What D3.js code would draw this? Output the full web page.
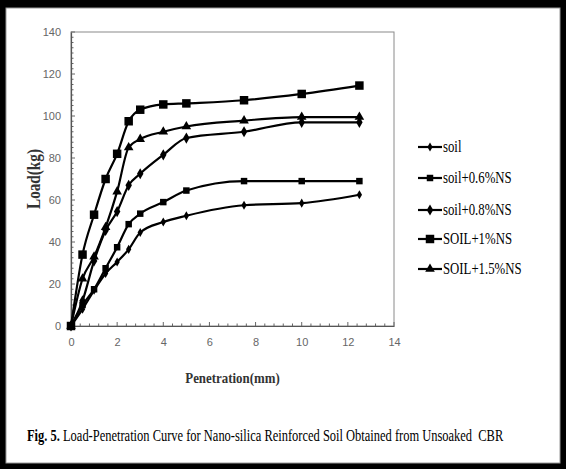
<!DOCTYPE html>
<html>
<head>
<meta charset="utf-8">
<script src="https://cdn.jsdelivr.net/npm/d3@7"></script>
<style>
  html, body { margin: 0; padding: 0; background: #fff; }
  svg { display: block; }
</style>
</head>
<body>
<svg id="chart" width="566" height="469"></svg>
<script>
// ── Data ───────────────────────────────────────────
const penetration = [0, 0.5, 1, 1.5, 2, 2.5, 3, 4, 5, 7.5, 10, 12.5];
const seriesNames = ['soil', 'soil+0.6%NS', 'soil+0.8%NS', 'SOIL+1%NS', 'SOIL+1.5%NS'];
const soil    = [0, 8, 17, 25, 30.5, 36.5, 44.5, 49.5, 52.5, 57.5, 58.5, 62.5];
const ns06    = [0, 10, 17.5, 27.5, 37.5, 48.5, 53.5, 59, 64.5, 69, 69, 69];
const ns08    = [0, 12, 31, 45.5, 54.5, 67, 72.5, 81.5, 89.5, 92.5, 97, 97];
const ns10    = [0, 34, 53, 70, 82, 97.5, 103, 105.5, 106, 107.5, 110.5, 114.5];
const ns15    = [0, 22.5, 33, 47, 64, 85, 89, 92.5, 95, 97.8, 99.5, 99.5];
const xTicks  = [0, 2, 4, 6, 8, 10, 12, 14];
const yTicks  = [0, 20, 40, 60, 80, 100, 120, 140];

const seriesValues = [soil, ns06, ns08, ns10, ns15];
const markerShapes = [d3.symbolDiamond, d3.symbolSquare, d3.symbolDiamond, d3.symbolSquare, d3.symbolTriangle];
const markerSizes  = [24, 42, 36, 72, 40];

const svg = d3.select('#chart');
const serif = '"Liberation Serif", "Times New Roman", serif';
const squeeze = 0.8;

// ── Frame ──────────────────────────────────────────
svg.append('rect').attr('width', 566).attr('height', 469).attr('fill', '#000');
svg.append('rect').attr('x', 6).attr('y', 8).attr('width', 554).attr('height', 455)
  .attr('fill', '#fff').attr('stroke', '#999').attr('stroke-width', 1);

// ── Scales ─────────────────────────────────────────
const x = d3.scaleLinear().domain([0, 14]).range([71, 394]);
const y = d3.scaleLinear().domain([0, 140]).range([326, 32]);

// plot border
svg.append('rect')
  .attr('x', x(0)).attr('y', y(140))
  .attr('width', x(14) - x(0)).attr('height', y(0) - y(140))
  .attr('fill', 'none').attr('stroke', '#8a8a8a').attr('stroke-width', 1);

// minor ticks (inside)
const gMinor = svg.append('g').attr('stroke', '#666').attr('stroke-width', 1);
d3.range(0, 140.01, 2.5).forEach(v => {
  gMinor.append('line').attr('x1', x(0)).attr('x2', x(0) + (v % 20 === 0 ? 4 : 2.5))
    .attr('y1', y(v)).attr('y2', y(v));
});
d3.range(0, 14.01, 0.4).forEach(v => {
  const major = Math.abs(v / 2 - Math.round(v / 2)) < 1e-6;
  gMinor.append('line').attr('x1', x(v)).attr('x2', x(v))
    .attr('y1', y(0)).attr('y2', y(0) - (major ? 4 : 2.5));
});

// axes
const xAxis = d3.axisBottom(x).tickValues(xTicks).tickSize(0).tickPadding(12);
const yAxis = d3.axisLeft(y).tickValues(yTicks).tickSize(0).tickPadding(10);
[svg.append('g').attr('transform', `translate(0,${y(0)})`).call(xAxis),
 svg.append('g').attr('transform', `translate(${x(0)},0)`).call(yAxis)].forEach(g => {
  g.select('.domain').attr('stroke', '#555').attr('stroke-width', 1.2);
  g.selectAll('text').attr('fill', '#666')
    .attr('font-family', '"Liberation Sans Narrow", "Liberation Sans", Arial, sans-serif')
    .attr('font-size', 11);
});

// ── Lines & markers ────────────────────────────────
const line = d3.line()
  .x((d, i) => x(penetration[i]))
  .y(d => y(d))
  .curve(d3.curveMonotoneX);

seriesValues.forEach((vals, s) => {
  svg.append('path').datum(vals)
    .attr('d', line)
    .attr('fill', 'none').attr('stroke', '#000').attr('stroke-width', 2.2);
  svg.append('g').selectAll('path')
    .data(vals).enter().append('path')
    .attr('transform', (d, i) => `translate(${x(penetration[i])},${y(d)})`)
    .attr('d', d3.symbol(markerShapes[s], markerSizes[s]))
    .attr('fill', '#000');
});

// ── Axis titles ────────────────────────────────────
svg.append('text')
  .attr('transform', `translate(40,${(y(0) + y(140)) / 2}) rotate(-90) scale(${squeeze},1)`)
  .attr('text-anchor', 'middle')
  .attr('font-family', serif).attr('font-weight', 'bold').attr('font-size', 19)
  .attr('fill', '#333')
  .text('Load(kg)');

svg.append('text')
  .attr('transform', `translate(${(x(0) + x(14)) / 2},383) scale(0.86,1)`)
  .attr('text-anchor', 'middle')
  .attr('font-family', serif).attr('font-weight', 'bold').attr('font-size', 15)
  .attr('fill', '#333')
  .text('Penetration(mm)');

// ── Legend ─────────────────────────────────────────
const legendRows = [147, 178, 210, 239, 269];
seriesNames.forEach((name, s) => {
  const g = svg.append('g').attr('transform', `translate(418,${legendRows[s]})`);
  g.append('line').attr('x1', 0).attr('x2', 24).attr('stroke', '#000').attr('stroke-width', 2.2);
  g.append('path').attr('transform', 'translate(12,0)')
    .attr('d', d3.symbol(markerShapes[s], markerSizes[s]))
    .attr('fill', '#000');
  g.append('text')
    .attr('transform', `translate(25,5) scale(${squeeze},1)`)
    .attr('font-family', serif).attr('font-size', 16).attr('fill', '#000')
    .text(name);
});

// ── Caption ────────────────────────────────────────
const cap = svg.append('text')
  .attr('transform', 'translate(27,441) scale(0.78,1)')
  .attr('font-family', serif).attr('font-size', 16).attr('fill', '#000');
cap.append('tspan').attr('font-weight', 'bold').text('Fig. 5.');
cap.append('tspan').text(' Load-Penetration Curve for Nano-silica Reinforced Soil Obtained from Unsoaked\u00a0 CBR');
</script>
</body>
</html>
